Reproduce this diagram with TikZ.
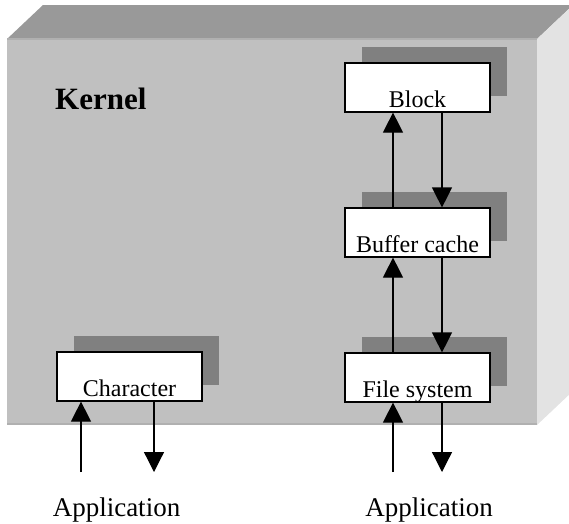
\documentclass[tikz,border=0pt]{standalone}
\usepackage{fontspec}
\setmainfont{Liberation Serif}
\usetikzlibrary{arrows.meta}
\usetikzlibrary{positioning}
\usetikzlibrary{shadows}
\definecolor{topgray}{HTML}{999999}
\definecolor{frontgray}{HTML}{C0C0C0}
\definecolor{sidegray}{HTML}{E3E3E3}
\definecolor{edgegray}{HTML}{B0B0B0}
\definecolor{shadowgray}{HTML}{808080}
\tikzstyle{layer} = [rectangle, minimum width=145pt, minimum height=49pt, inner xsep=0pt, inner ysep=0pt, text height=44pt, text depth=5pt, draw=black, line width=1.2pt, fill=white, general shadow={fill=shadowgray, shadow xshift=17pt, shadow yshift=16pt}, font=\fontsize{24}{28}\selectfont]
\tikzstyle{app} = [anchor=base, inner sep=0pt, font=\fontsize{27}{32}\selectfont]
\tikzstyle{arrow} = [line width=1.2pt, -{Triangle[length=20pt, width=20pt]}]

\begin{document}
\begin{tikzpicture}[x=1pt, y=-1pt, node distance=145pt]

	\useasboundingbox (0,0) rectangle (569,523);

	\fill [topgray] (7,39) -- (43,5) -- (573,5) -- (537,39) -- cycle;
	\fill [sidegray] (537,39) -- (573,5) -- (573,391) -- (537,425) -- cycle;
	\fill [frontgray] (7,39) rectangle (537,425);
	\draw [edgegray, line width=2pt] (7,39) -- (537,39);
	\draw [edgegray, line width=2pt] (7,424) -- (537,424);

	\node (kernel) [anchor=base west, inner sep=0pt, font=\fontsize{31}{36}\selectfont\bfseries] at (55,109) {Kernel};

	\node (block) [layer] at (417.5,87.5) {Block};
	\node (buffer) [layer, below of=block] {Buffer cache};
	\node (filesys) [layer, below of=buffer] {File system};
	\node (char) [layer] at (129.5,376.5) {Character};

	\node (app1) [app] at (116.5,516) {Application};
	\node (app2) [app] at (429,516) {Application};

	\coordinate (charin) at (81,472);
	\coordinate (charout) at (154,472);
	\coordinate (fsin) at (393,472);
	\coordinate (fsout) at (442,472);

	\draw [arrow] ([xshift=-24.5pt]buffer.north) -- ([xshift=-24.5pt]block.south);
	\draw [arrow] ([xshift=24.5pt]block.south) -- ([xshift=24.5pt]buffer.north);
	\draw [arrow] ([xshift=-24.5pt]filesys.north) -- ([xshift=-24.5pt]buffer.south);
	\draw [arrow] ([xshift=24.5pt]buffer.south) -- ([xshift=24.5pt]filesys.north);

	\draw [arrow] (charin) -- (char.south -| charin);
	\draw [arrow] (char.south -| charout) -- (charout);
	\draw [arrow] (fsin) -- (filesys.south -| fsin);
	\draw [arrow] (filesys.south -| fsout) -- (fsout);

\end{tikzpicture}
\end{document}
